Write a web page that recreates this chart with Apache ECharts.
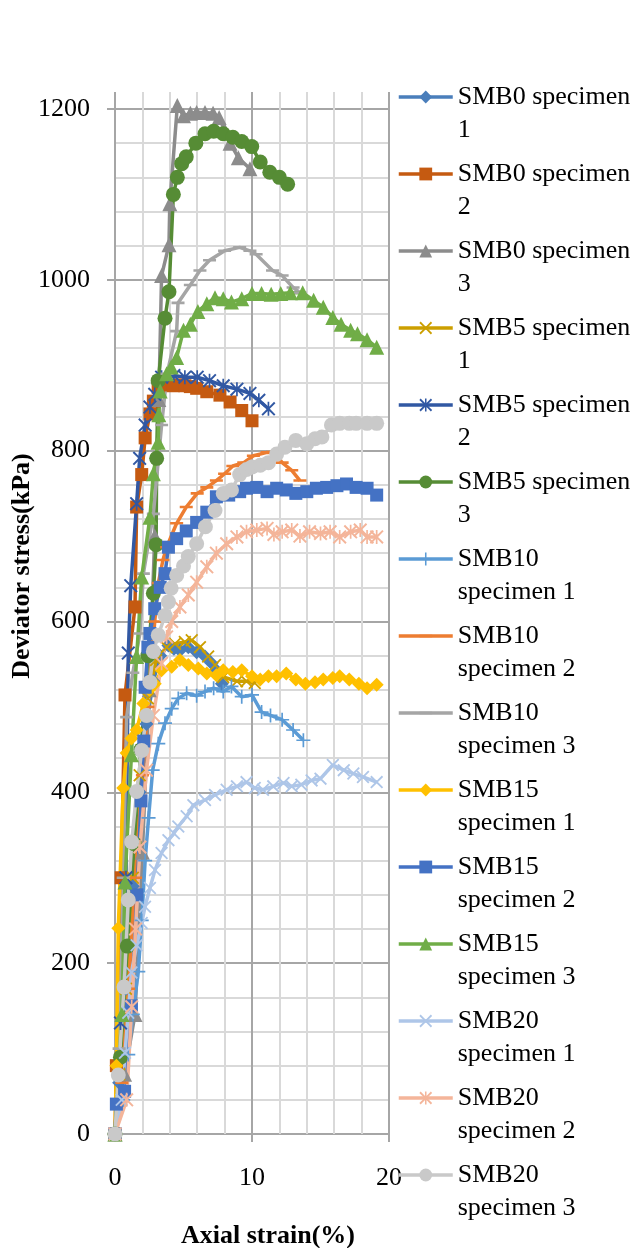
<!DOCTYPE html>
<html><head><meta charset="utf-8">
<script src="https://cdn.jsdelivr.net/npm/echarts@6/dist/echarts.min.js"></script>
<style>html,body{margin:0;padding:0;background:#fff}#c{width:637px;height:1248px}</style>
</head><body><div id="c"></div>
<script>
// ---- data (axial strain %, deviator stress kPa) ----
const seriesNames = ['SMB0 specimen 1','SMB0 specimen 2','SMB0 specimen 3','SMB5 specimen 1','SMB5 specimen 2','SMB5 specimen 3','SMB10 specimen 1','SMB10 specimen 2','SMB10 specimen 3','SMB15 specimen 1','SMB15 specimen 2','SMB15 specimen 3','SMB20 specimen 1','SMB20 specimen 2','SMB20 specimen 3'];
const legendLabels = ['SMB0 specimen\n1','SMB0 specimen\n2','SMB0 specimen\n3','SMB5 specimen\n1','SMB5 specimen\n2','SMB5 specimen\n3','SMB10\nspecimen 1','SMB10\nspecimen 2','SMB10\nspecimen 3','SMB15\nspecimen 1','SMB15\nspecimen 2','SMB15\nspecimen 3','SMB20\nspecimen 1','SMB20\nspecimen 2','SMB20\nspecimen 3'];
const xTickLabels = [0, 10, 20];
const yTickLabels = [0, 200, 400, 600, 800, 1000, 1200];

const smb0_1 = [[0,0],[0.3,60],[0.8,170],[1.3,290],[1.8,400],[2.3,480],[2.8,530],[3.3,560],[3.9,572],[4.3,568],[4.74,566],[5.35,570],[5.96,564],[6.57,559],[7.05,551],[7.4,543],[7.8,527]];
const smb0_2 = [[0,0],[0.1,80],[0.45,300],[0.73,514],[1.46,617],[1.58,734],[1.95,772],[2.2,815],[2.55,843],[2.8,858],[3.15,874],[3.7,877],[4.25,876],[4.7,877],[5.1,876],[5.5,875],[5.96,873],[6.7,869],[7.66,865],[8.4,857],[9.25,847],[10.0,835]];
const smb0_3 = [[0,0],[0.7,70],[1.46,140],[2.0,330],[2.5,520],[2.9,700],[3.2,860],[3.4,1005],[3.94,1041],[4.0,1089],[4.55,1204],[5.0,1192],[5.5,1195],[5.96,1196],[6.57,1196],[7.16,1195],[7.6,1190],[8.0,1175],[8.4,1160],[9.0,1143],[9.85,1130]];
const smb5_1 = [[0,0],[0.3,70],[0.8,170],[1.3,300],[1.8,420],[2.4,510],[3.0,555],[3.77,570],[4.38,574],[5.1,576],[5.6,578],[6.2,570],[6.8,559],[7.3,549],[7.9,535],[8.9,530],[9.6,530],[10.2,528]];
const smb5_2 = [[0,0],[0.4,130],[0.8,300],[0.97,563],[1.15,642],[1.58,738],[1.8,791],[2.2,830],[2.55,851],[2.9,866],[3.4,886],[4.3,888],[5.1,886],[6.0,886],[6.9,882],[7.9,876],[8.9,872],[9.85,867],[10.5,859],[11.2,849]];
const smb5_3 = [[0,0],[0.4,90],[0.9,220],[1.4,340],[1.9,450],[2.4,560],[2.8,633],[3.0,690],[3.04,791],[3.15,882],[3.65,955],[3.94,986],[4.26,1100],[4.55,1120],[4.87,1136],[5.2,1144],[5.9,1160],[6.57,1171],[7.2,1174],[7.9,1171],[8.6,1167],[9.25,1162],[9.98,1156],[10.6,1138],[11.3,1126],[12.0,1120],[12.6,1112]];
const smb10_1 = [[0,0],[0.6,40],[0.97,93],[1.3,140],[1.7,190],[1.95,250],[2.2,320],[2.45,370],[2.75,426],[3.16,457],[3.65,481],[4.14,498],[4.62,510],[5.23,516],[5.96,513],[6.57,518],[7.2,522],[7.9,518],[8.5,524],[9.25,512],[10.0,514],[10.7,494],[11.35,490],[12.2,485],[13.0,473],[13.75,461]];
const smb10_2 = [[0,0],[0.5,60],[1.0,170],[1.5,300],[2.0,420],[2.4,500],[2.9,600],[3.16,645],[3.5,672],[3.77,687],[4.5,715],[5.2,734],[6.0,750],[6.7,757],[7.4,765],[8.0,773],[8.6,782],[9.4,786],[10.1,794],[11.1,798],[11.7,798],[12.2,786],[12.9,777],[13.5,765]];
const smb10_3 = [[0,0],[0.3,100],[0.6,300],[0.85,488],[1.3,540],[1.82,586],[2.07,656],[2.8,726],[3.4,830],[3.8,890],[4.5,940],[4.6,973],[5.5,994],[6.2,1011],[6.9,1023],[8.0,1034],[9.1,1038],[9.85,1034],[10.3,1030],[11.5,1011],[12.2,1005],[13.0,991],[13.5,985]];
const smb15_1 = [[0,0],[0.1,80],[0.24,241],[0.6,405],[0.85,446],[1.2,463],[1.58,473],[2.07,504],[2.5,520],[2.9,527],[3.4,543],[4.14,547],[4.74,555],[5.35,549],[6.08,545],[6.7,539],[7.4,537],[7.9,543],[8.6,541],[9.25,543],[10.0,536],[10.6,532],[11.2,536],[11.8,536],[12.5,539],[13.2,532],[13.9,527],[14.6,529],[15.2,532],[15.9,534],[16.4,536],[17.1,532],[17.8,527],[18.4,522],[19.1,526]];
const smb15_2 = [[0,0],[0.1,35],[0.7,50],[1.2,150],[1.6,280],[1.9,390],[2.1,460],[2.2,523],[2.4,570],[2.55,586],[2.9,615],[3.3,640],[3.65,656],[3.9,687],[4.5,697],[5.2,706],[5.96,716],[6.7,728],[7.4,746],[8.3,748],[9.1,752],[9.6,756],[10.35,757],[11.1,752],[11.8,756],[12.5,754],[13.2,750],[14.0,752],[14.7,756],[15.45,757],[16.2,759],[16.9,761],[17.6,757],[18.4,756],[19.1,748]];
const smb15_3 = [[0,0],[0.5,140],[0.73,295],[1.2,444],[1.58,559],[1.95,652],[2.55,722],[2.8,773],[3.15,810],[3.2,842],[3.3,870],[3.77,890],[4.1,898],[4.5,909],[5.0,941],[5.5,948],[6.05,963],[6.7,972],[7.3,979],[7.9,978],[8.5,974],[9.25,978],[10.0,984],[10.7,984],[11.4,983],[12.1,984],[12.8,985],[13.7,985],[14.5,976],[15.2,968],[15.9,956],[16.5,948],[17.2,941],[17.7,937],[18.4,930],[19.1,921]];
const smb20_1 = [[0,0],[0.49,40],[0.73,95],[0.97,142],[1.2,189],[1.58,221],[1.95,247],[2.19,266],[2.55,288],[2.92,309],[3.4,329],[3.9,344],[4.3,352],[4.62,360],[5.23,372],[5.72,385],[6.57,391],[7.3,397],[8.15,403],[8.9,407],[9.6,412],[10.2,405],[10.8,403],[11.55,407],[12.3,411],[12.9,407],[13.6,409],[14.35,414],[15.0,416],[15.9,432],[16.7,426],[17.4,422],[18.1,418],[19.1,412]];
const smb20_2 = [[0,0],[0.85,40],[1.22,149],[1.5,240],[1.82,336],[2.3,426],[2.8,490],[3.4,551],[3.77,582],[4.14,600],[4.74,617],[5.35,631],[5.96,646],[6.7,664],[7.4,680],[8.15,691],[8.9,699],[9.6,705],[10.35,707],[11.1,709],[11.6,702],[12.2,705],[12.9,707],[13.5,700],[14.2,705],[15.0,703],[15.7,705],[16.4,699],[17.2,705],[17.9,707],[18.4,699],[19.1,699]];
const smb20_3 = [[0,0],[0.24,69],[0.66,172],[0.97,274],[1.22,342],[1.58,401],[1.95,449],[2.3,490],[2.55,529],[2.8,565],[3.16,584],[3.65,607],[3.9,623],[4.1,639],[4.5,654],[5.0,665],[5.35,676],[5.96,691],[6.6,711],[7.3,730],[7.9,750],[8.5,754],[9.1,772],[9.6,778],[10.0,781],[10.6,783],[11.2,786],[11.8,796],[12.4,804],[13.2,812],[14.0,808],[14.6,814],[15.1,816],[15.8,830],[16.4,832],[17.1,832],[17.6,832],[18.4,832],[19.1,832]];

const seriesData = [smb0_1,smb0_2,smb0_3,smb5_1,smb5_2,smb5_3,smb10_1,smb10_2,smb10_3,smb15_1,smb15_2,smb15_3,smb20_1,smb20_2,smb20_3];

// ---- styles ----
const colors = ['#4A7EBB','#C55A11','#8C8C8C','#CC9F00','#3158A3','#568C35','#5B9BD5','#ED7D31','#A5A5A5','#FFC000','#4472C4','#70AD47','#AEC6E8','#F4B59A','#C9C9C9'];
const X_PATH = 'path://M0,1L1,0L5,4L9,0L10,1L6,5L10,9L9,10L5,6L1,10L0,9L4,5Z';
const STAR_PATH = 'path://M0,1L1,0L5,4L9,0L10,1L6,5L10,9L9,10L5,6L1,10L0,9L4,5Z M4.4,0L5.6,0L5.6,10L4.4,10Z';
const PLUS_PATH = 'path://M4.4,0H5.6V4.4H10V5.6H5.6V10H4.4V5.6H0V4.4H4.4Z';
// horizontal dash inside a square bounding box (zero-area corner points keep the box square)
const DASH_PATH = 'path://M0,0L0.01,0Z M0,4H10V6H0Z M0,10L0.01,10Z';
const symbols = ['diamond','rect','triangle',X_PATH,STAR_PATH,'circle',PLUS_PATH,DASH_PATH,DASH_PATH,'diamond','rect','triangle',X_PATH,STAR_PATH,'circle'];
const symbolSizes = [14,13,15,13,14,15,14,13,13,14,13,15,13,14,15];

const FONT = '"Liberation Serif", "Times New Roman", serif';
const chart = echarts.init(document.getElementById('c'), null, {renderer:'canvas'});

const series = seriesData.map((d, i) => ({
  name: seriesNames[i],
  type: 'line',
  xAxisIndex: 0, yAxisIndex: 0,
  data: d,
  clip: false,
  symbol: symbols[i],
  symbolSize: symbolSizes[i],
  showAllSymbol: true,
  lineStyle: {color: colors[i], width: 3.5},
  itemStyle: {color: colors[i], borderWidth: 0},
  emphasis: {disabled: true},
  animation: false
}));

const MINOR = '#D9D9D9', MAJOR = '#A6A6A6';
const gridColors = [MAJOR, MINOR, MINOR, MINOR, MINOR];
const hidden = {axisLine:{show:false}, axisTick:{show:false}, axisLabel:{show:false}};

chart.setOption({
  animation: false,
  grid: [
    {left: 115, right: 248, top: 109, bottom: 114},          // main plot
    {left: 115, right: 248, top: 92, height: 17},            // strip above 1200
    {left: 107, width: 8, top: 109, bottom: 114},            // y major ticks
    {left: 115, right: 248, top: 1134, height: 8}            // x major ticks
  ],
  xAxis: [
    Object.assign({gridIndex:0, type:'value', min:0, max:20, interval:2,
     splitLine:{show:true, showMinLine:true, showMaxLine:true, lineStyle:{color:gridColors, width:2}}}, hidden,
     {axisLabel:{show:true, fontFamily:FONT, fontSize:26, color:'#000', margin:31, hideOverlap:false,
       formatter: v => xTickLabels.indexOf(v) >= 0 ? String(v) : ''}}),
    Object.assign({gridIndex:1, type:'value', min:0, max:20, interval:2,
     splitLine:{show:true, lineStyle:{color:gridColors, width:2}}}, hidden),
    Object.assign({gridIndex:2, type:'value', min:0, max:1, show:false}, hidden),
    Object.assign({gridIndex:3, type:'value', min:0, max:20, interval:10,
     splitLine:{show:true, lineStyle:{color:MAJOR, width:2}}}, hidden)
  ],
  yAxis: [
    Object.assign({gridIndex:0, type:'value', min:0, max:1200, interval:40,
     splitLine:{show:true, showMinLine:true, showMaxLine:true, lineStyle:{color:gridColors, width:2}}}, hidden,
     {axisLabel:{show:true, fontFamily:FONT, fontSize:26, color:'#000', margin:25, hideOverlap:false,
       formatter: v => yTickLabels.indexOf(v) >= 0 ? String(v) : ''}}),
    Object.assign({gridIndex:1, type:'value', min:0, max:1, show:false}, hidden),
    Object.assign({gridIndex:2, type:'value', min:0, max:1200, interval:200,
     splitLine:{show:true, lineStyle:{color:MAJOR, width:2}}}, hidden),
    Object.assign({gridIndex:3, type:'value', min:0, max:1, show:false}, hidden)
  ],
  legend: {
    orient:'vertical', left:397, top:47.5, padding:0,
    itemWidth:54, itemHeight:16, itemGap:-22,
    data: seriesNames,
    formatter: name => '\n' + legendLabels[seriesNames.indexOf(name)],
    textStyle:{fontFamily:FONT, fontSize:26, color:'#000', lineHeight:33},
    lineStyle:{width:3.5},
    selectedMode:false
  },
  graphic: [
    {type:'text', x:22, y:566, rotation:Math.PI/2, z:10,
     style:{text:'Deviator stress(kPa)', font:'bold 26px ' + FONT, fill:'#000', textAlign:'center', textVerticalAlign:'middle'}},
    {type:'text', x:268, y:1236, z:10,
     style:{text:'Axial strain(%)', font:'bold 26px ' + FONT, fill:'#000', textAlign:'center', textVerticalAlign:'middle'}}
  ],
  series: series
});
</script></body></html>
